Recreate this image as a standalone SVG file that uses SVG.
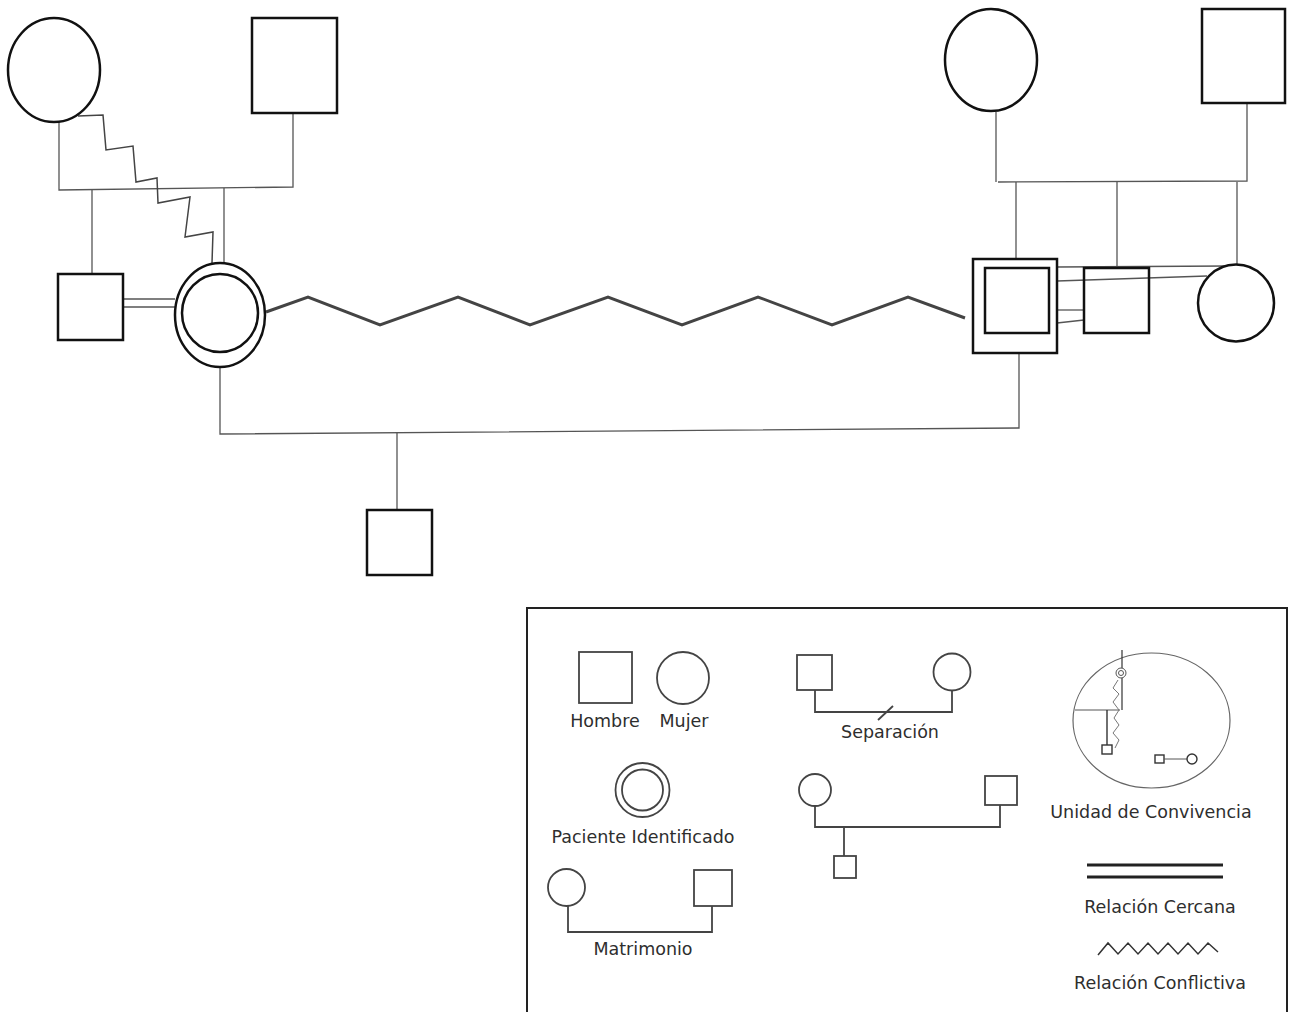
<svg xmlns="http://www.w3.org/2000/svg" width="1293" height="1012" viewBox="0 0 1293 1012">
<style>
.n{fill:#fff;stroke:#111;stroke-width:2.5}
.c{fill:none;stroke:#555;stroke-width:1.3}
.z{fill:none;stroke:#444;stroke-width:1.5;stroke-linejoin:miter}
.big{fill:none;stroke:#444;stroke-width:3;stroke-linejoin:miter}
.ln{fill:#fff;stroke:#444;stroke-width:1.8}
.ll{fill:none;stroke:#444;stroke-width:1.8}
.t{font-family:"DejaVu Sans",sans-serif;font-size:17.5px;fill:#2e2e2e;text-anchor:middle}
</style>
<rect width="1293" height="1012" fill="#fff"/>
<g id="connectors">
  <polyline class="c" points="59,122 59,190 293,187 293,113"/>
  <line class="c" x1="92" y1="190" x2="92" y2="274"/>
  <line class="c" x1="224" y1="188" x2="224" y2="263"/>
  <polyline class="z" points="78,116 103,115 106,150 133,146 136,182 157,178 158,203 190,197 185,237 213,232 212,263"/>
  <line class="c" x1="123" y1="299" x2="175" y2="299"/>
  <line class="c" x1="123" y1="307" x2="175" y2="307"/>
  <polyline class="c" points="996,112 996,182"/>
  <polyline class="c" points="998,182 1247,181 1247,103"/>
  <line class="c" x1="1016" y1="182" x2="1016" y2="259"/>
  <line class="c" x1="1117" y1="182" x2="1117" y2="268"/>
  <line class="c" x1="1237" y1="182" x2="1237" y2="265"/>
  <line class="c" x1="1057" y1="267" x2="1228" y2="266"/>
  <line class="c" x1="1057" y1="281" x2="1207" y2="276"/>
  <line class="c" x1="1057" y1="310" x2="1084" y2="310"/>
  <line class="c" x1="1057" y1="323" x2="1084" y2="320"/>
  <polyline class="big" points="266,312 308,297 380,325 458,297 530,325 608,297 682,325 758,297 832,325 908,297 965,318"/>
  <polyline class="c" points="220,367 220,434 1019,428 1019,353"/>
  <line class="c" x1="397" y1="433" x2="397" y2="510"/>
</g>
<g id="abuela-materna"><ellipse class="n" cx="54" cy="70" rx="46" ry="52"/></g>
<g id="abuelo-materno"><rect class="n" x="252" y="18" width="85" height="95"/></g>
<g id="hermano"><rect class="n" x="58" y="274" width="65" height="66"/></g>
<g id="paciente">
  <ellipse class="n" cx="220" cy="315" rx="45" ry="52"/>
  <ellipse class="n" cx="220" cy="313" rx="38" ry="39"/>
</g>
<g id="abuela-paterna"><ellipse class="n" cx="991" cy="60" rx="46" ry="51"/></g>
<g id="abuelo-paterno"><rect class="n" x="1202" y="9" width="83" height="94"/></g>
<g id="pareja">
  <rect class="n" x="973" y="259" width="84" height="94"/>
  <rect class="n" x="985" y="268" width="64" height="65"/>
</g>
<g id="hermano-pareja"><rect class="n" x="1084" y="268" width="65" height="65" style="fill:none"/></g>
<g id="hermana-pareja"><ellipse class="n" cx="1236" cy="303" rx="38" ry="38.5"/></g>
<g id="hijo"><rect class="n" x="367" y="510" width="65" height="65"/></g>
<g id="leyenda">
  <polyline fill="none" stroke="#222" stroke-width="2" points="527,1012 527,608 1287,608 1287,1012"/>
  <rect class="ln" x="579" y="652" width="53" height="51"/>
  <circle class="ln" cx="683" cy="678" r="26"/>
  <text class="t" x="605" y="727">Hombre</text>
  <text class="t" x="684" y="727">Mujer</text>
  <circle class="ln" cx="642.5" cy="790" r="27"/>
  <circle class="ln" cx="642.5" cy="790" r="20.5"/>
  <text class="t" x="643" y="843">Paciente Identificado</text>
  <polyline class="ll" points="568,905 568,932 712,932 712,906"/>
  <circle class="ln" cx="566.5" cy="887.5" r="18.5"/>
  <rect class="ln" x="694" y="870" width="38" height="36"/>
  <text class="t" x="643" y="955">Matrimonio</text>
  <polyline class="ll" points="815,690 815,712 952,712 952,690"/>
  <line class="ll" x1="878" y1="720" x2="893" y2="706"/>
  <rect class="ln" x="797" y="655" width="35" height="35"/>
  <circle class="ln" cx="952" cy="672" r="18.5"/>
  <text class="t" x="890" y="738">Separación</text>
  <polyline class="ll" points="815,805 815,827 1000,827 1000,805"/>
  <line class="ll" x1="844" y1="827" x2="844" y2="856"/>
  <circle class="ln" cx="815" cy="790" r="16"/>
  <rect class="ln" x="985" y="776" width="32" height="29"/>
  <rect class="ln" x="834" y="856" width="22" height="22"/>
  <ellipse fill="none" stroke="#666" stroke-width="1.2" cx="1151.5" cy="720.5" rx="78.5" ry="67.5"/>
  <line stroke="#333" stroke-width="1.2" x1="1122" y1="650" x2="1122" y2="710"/>
  <line stroke="#555" stroke-width="1" x1="1075" y1="710" x2="1120" y2="710"/>
  <line stroke="#333" stroke-width="1.4" x1="1107" y1="710" x2="1107" y2="745"/>
  <polyline fill="none" stroke="#777" stroke-width="1" points="1118,680 1113,688 1119,694 1113,702 1119,710 1114,718 1119,725 1113,733 1119,740 1115,748"/>
  <circle fill="#fff" stroke="#555" stroke-width="1" cx="1121" cy="673" r="5"/>
  <circle fill="none" stroke="#555" stroke-width="1" cx="1121" cy="673" r="2.5"/>
  <rect fill="#fff" stroke="#333" stroke-width="1.4" x="1102" y="745" width="10" height="9"/>
  <rect fill="#fff" stroke="#333" stroke-width="1.4" x="1155" y="755" width="9" height="8"/>
  <line stroke="#555" stroke-width="1" x1="1164" y1="759" x2="1188" y2="759"/>
  <circle fill="#fff" stroke="#333" stroke-width="1.4" cx="1192" cy="759" r="5"/>
  <text class="t" x="1151" y="818">Unidad de Convivencia</text>
  <line stroke="#222" stroke-width="3" x1="1087" y1="865" x2="1223" y2="865"/>
  <line stroke="#222" stroke-width="3" x1="1087" y1="877" x2="1223" y2="877"/>
  <text class="t" x="1160" y="913">Relación Cercana</text>
  <polyline fill="none" stroke="#333" stroke-width="1.5" points="1098,955 1108,943 1118,954 1128,943 1138,954 1148,943 1158,954 1168,943 1178,954 1188,943 1198,954 1208,943 1218,952"/>
  <text class="t" x="1160" y="989">Relación Conflictiva</text>
</g>
</svg>
